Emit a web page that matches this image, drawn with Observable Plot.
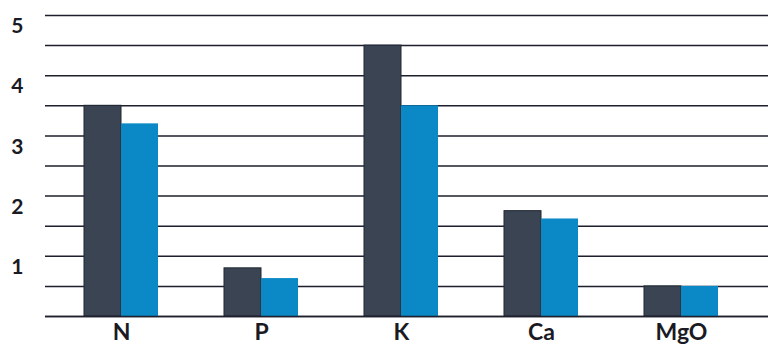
<!DOCTYPE html>
<html>
<head>
<meta charset="utf-8">
<script src="https://cdn.jsdelivr.net/npm/d3@7"></script>
<script src="https://cdn.jsdelivr.net/npm/@observablehq/plot@0.6"></script>
<style>
  html, body { margin: 0; padding: 0; background: #ffffff; }
  #chart { width: 768px; height: 349px; }
</style>
</head>
<body>
<div id="chart"></div>
<script>
const categories = ["N", "P", "K", "Ca", "MgO"];
const seriesA = [3.5, 0.8, 4.5, 1.75, 0.5];   // dark bars
const seriesB = [3.2, 0.63, 3.5, 1.62, 0.5];  // blue bars
const yTickLabels = [1, 2, 3, 4, 5];
const gridValues = [0, 0.5, 1, 1.5, 2, 2.5, 3, 3.5, 4, 4.5, 5];

const rowsA = categories.map((c, i) => ({category: c, value: seriesA[i]}));
const rowsB = categories.map((c, i) => ({category: c, value: seriesB[i]}));

const font = "Lato, 'Open Sans', sans-serif";
const half = 37;

const chart = Plot.plot({
  width: 768,
  height: 349,
  marginTop: 15,
  marginBottom: 33,
  marginLeft: 45,
  marginRight: 0,
  style: {fontFamily: font, background: "#ffffff", overflow: "visible"},
  x: {domain: categories, paddingInner: 0.473, paddingOuter: 0.31, align: 0.437, axis: null},
  y: {domain: [0, 5], axis: null},
  marks: [
    Plot.ruleY(gridValues, {stroke: "#1d1f2c", strokeWidth: 1.5}),
    Plot.barY(rowsA, {x: "category", y: "value", fill: "#3a4453", stroke: "#1f2631", strokeWidth: 1, insetRight: half}),
    Plot.barY(rowsB, {x: "category", y: "value", fill: "#0a89c6", insetLeft: half}),
    Plot.ruleY([0], {stroke: "#1d1f2c", strokeWidth: 1.5}),
    Plot.text(yTickLabels, {y: d => d, frameAnchor: "left", text: d => String(d), textAnchor: "end", dx: -22, dy: 11, fontSize: 21, fontWeight: "bold", fill: "#1a1a24"}),
    Plot.text(categories, {x: d => d, frameAnchor: "bottom", text: d => d, dy: 23, fontSize: 23, fontWeight: "bold", fill: "#1a1a24"})
  ]
});
document.getElementById("chart").appendChild(chart);
</script>
</body>
</html>
